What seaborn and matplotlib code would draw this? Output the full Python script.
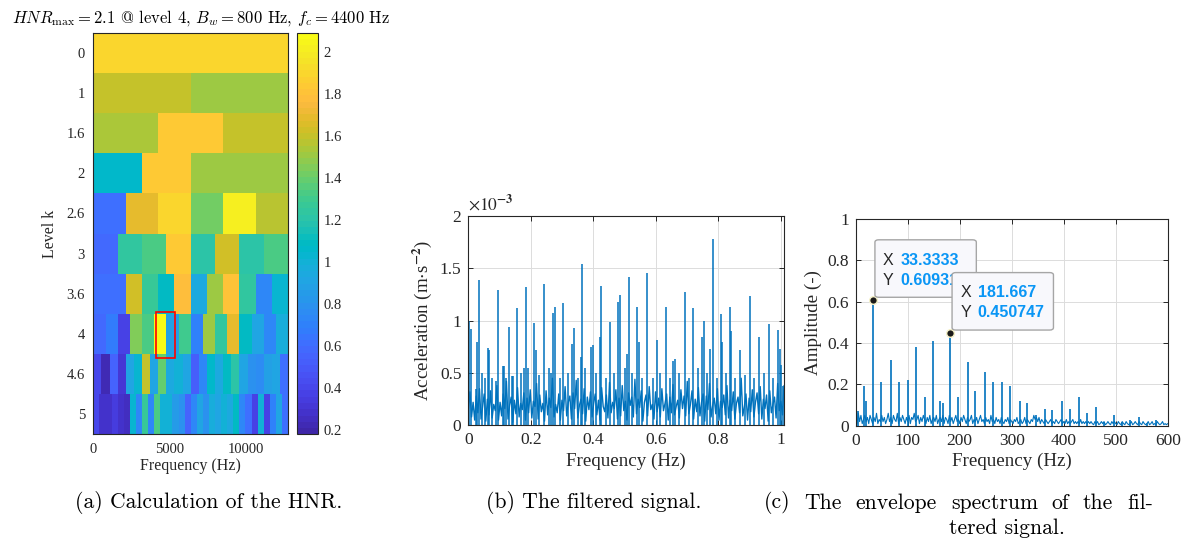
import numpy as np
import pandas as pd
import matplotlib
matplotlib.use('Agg')
import matplotlib.pyplot as plt
from matplotlib.colors import ListedColormap
from matplotlib.patches import Rectangle, FancyBboxPatch
from matplotlib.ticker import StrMethodFormatter
import seaborn as sns

# ---------------- data ----------------
level_labels = ['0', '1', '1.6', '2', '2.6', '3', '3.6', '4', '4.6', '5']
lvl_0 = [1.91]
lvl_1 = [1.61, 1.50]
lvl_1_6 = [1.55, 1.84, 1.60]
lvl_2 = [1.05, 1.84, 1.50, 1.50]
lvl_2_6 = [0.60, 1.69, 1.90, 1.43, 2.02, 1.58]
lvl_3 = [0.57, 1.24, 1.34, 1.84, 1.22, 1.64, 1.20, 1.33]
lvl_3_6 = [0.60, 0.62, 1.62, 1.28, 1.10, 1.78, 0.93, 1.50, 1.80, 1.24, 0.72, 1.03]
lvl_4 = [0.57, 0.68, 0.38, 1.44, 1.32, 2.09, 0.88, 1.30, 0.70, 1.50, 1.24, 1.69,
         1.10, 0.90, 0.72, 0.98]
lvl_4_6 = [0.40, 0.22, 0.55, 0.30, 0.92, 1.03, 1.60, 0.90, 1.38, 0.95, 1.00, 0.90,
           0.52, 0.72, 1.07, 0.95, 1.10, 1.22, 0.90, 0.78, 0.75, 0.87, 0.92, 0.60]
lvl_5 = [0.40, 0.27, 0.27, 0.33, 0.28, 0.24, 1.03, 0.74, 1.26, 0.72, 1.34, 1.00,
         1.00, 0.85, 0.80, 0.55, 0.72, 0.90, 0.80, 0.97, 0.92, 1.00, 0.95, 1.08,
         0.72, 0.62, 0.38, 1.00, 0.36, 0.70, 0.90, 0.62]
nyquist_hz = 12800
hnr_vmin, hnr_vmax = 0.18, 2.09
sel_band_hz = [4120, 5350]      # red box drawn by the original tool
sel_rows = [6.96, 8.11]

# (b) filtered signal, units of 1e-3 m/s^2
sig_floor = [
    0.15, 0.32, 0.08, 0.22, 0.05, 0.28, 0.12, 0.35, 0.06, 0.18, 0.30, 0.04, 0.25, 0.10, 0.33, 0.07, 0.20, 0.14, 0.38, 0.05,
    0.22, 0.09, 0.30, 0.16, 0.42, 0.06, 0.19, 0.27, 0.03, 0.24, 0.11, 0.36, 0.08, 0.21, 0.15, 0.31, 0.05, 0.26, 0.12, 0.34,
    0.07, 0.23, 0.18, 0.40, 0.06, 0.29, 0.13, 0.21, 0.04, 0.33, 0.10, 0.26, 0.17, 0.45, 0.08, 0.20, 0.12, 0.30, 0.05, 0.24,
    0.14, 0.37, 0.09, 0.22, 0.28, 0.06, 0.31, 0.16, 0.43, 0.07, 0.19, 0.25, 0.11, 0.35, 0.04, 0.27, 0.15, 0.32, 0.08, 0.21,
    0.30, 0.10, 0.24, 0.05, 0.36, 0.18, 0.13, 0.29, 0.07, 0.41, 0.12, 0.22, 0.16, 0.34, 0.06, 0.26, 0.09, 0.38, 0.14, 0.23,
    0.05, 0.31, 0.19, 0.27, 0.08, 0.44, 0.11, 0.25, 0.17, 0.33, 0.04, 0.22, 0.29, 0.09, 0.37, 0.15, 0.20, 0.06, 0.32, 0.13,
    0.26, 0.08, 0.35, 0.14, 0.21, 0.30, 0.05, 0.27, 0.12, 0.39, 0.10, 0.18, 0.24, 0.07, 0.34, 0.16, 0.28, 0.09, 0.42, 0.11,
    0.20, 0.33, 0.06, 0.25, 0.13, 0.36, 0.09, 0.22, 0.30, 0.04, 0.28, 0.15, 0.40, 0.08, 0.19, 0.26, 0.11, 0.35, 0.05, 0.23,
    0.17, 0.29, 0.10, 0.38, 0.07, 0.24, 0.14, 0.32, 0.06, 0.21, 0.27, 0.12, 0.45, 0.09, 0.18, 0.30, 0.05, 0.26, 0.13, 0.34,
    0.08, 0.22, 0.31, 0.11, 0.37, 0.06, 0.25, 0.16, 0.29, 0.04, 0.33, 0.12, 0.20, 0.27, 0.07, 0.40, 0.14, 0.23, 0.10, 0.38]
sig_xmax = 1.0106
sig_peak_x = [0.003, 0.009, 0.023, 0.029, 0.034, 0.045, 0.053, 0.062, 0.067, 0.075, 0.090, 0.096,
              0.110, 0.114, 0.120, 0.130, 0.140, 0.144, 0.157, 0.170, 0.179, 0.184, 0.190, 0.211,
              0.216, 0.225, 0.243, 0.258, 0.265, 0.272, 0.276, 0.295, 0.304, 0.320, 0.333, 0.338,
              0.350, 0.360, 0.365, 0.375, 0.393, 0.398, 0.410, 0.420, 0.426, 0.440, 0.452, 0.465,
              0.480, 0.485, 0.500, 0.507, 0.513, 0.525, 0.541, 0.546, 0.555, 0.573, 0.590, 0.605,
              0.615, 0.633, 0.645, 0.656, 0.660, 0.675, 0.695, 0.705, 0.720, 0.735, 0.749, 0.755,
              0.765, 0.774, 0.782, 0.795, 0.809, 0.813, 0.825, 0.838, 0.842, 0.855, 0.870, 0.885,
              0.902, 0.915, 0.931, 0.945, 0.964, 0.975, 0.990, 0.997, 1.001, 1.008]
sig_peak_h = [1.00, 0.92, 0.35, 0.80, 1.39, 0.50, 0.45, 0.74, 0.72, 0.45, 0.42, 1.29,
              0.57, 0.57, 0.45, 0.94, 0.47, 0.47, 1.12, 0.50, 0.55, 1.32, 0.55, 0.98,
              0.72, 0.48, 1.35, 0.55, 0.50, 1.07, 1.13, 0.45, 1.17, 0.50, 0.78, 0.93,
              0.45, 0.65, 1.54, 0.55, 0.75, 0.77, 0.50, 0.84, 1.33, 0.45, 0.99, 0.50,
              1.18, 1.25, 0.55, 0.68, 1.42, 0.50, 1.13, 0.80, 0.45, 1.46, 0.45, 0.82,
              0.50, 1.13, 0.45, 0.61, 0.63, 0.50, 1.27, 0.45, 1.12, 0.55, 0.84, 1.00,
              0.50, 0.73, 1.78, 0.45, 1.06, 0.80, 0.50, 1.13, 0.90, 0.45, 0.72, 0.48,
              1.24, 0.45, 0.84, 0.50, 0.97, 0.45, 0.91, 0.73, 0.58, 0.38]

# (c) envelope spectrum (noise floor every 2.5 Hz, then discrete lines)
env_floor = [
    0.04, 0.01, 0.06, 0.02, 0.05, 0.01, 0.03, 0.05, 0.02, 0.04, 0.01, 0.05, 0.03, 0.01, 0.04, 0.02, 0.06, 0.01, 0.03, 0.02,
    0.05, 0.02, 0.04, 0.01, 0.03, 0.06, 0.02, 0.04, 0.01, 0.05, 0.03, 0.02, 0.06, 0.01, 0.04, 0.02, 0.05, 0.03, 0.01, 0.04,
    0.02, 0.05, 0.01, 0.04, 0.03, 0.06, 0.02, 0.03, 0.05, 0.01, 0.04, 0.02, 0.05, 0.03, 0.01, 0.04, 0.02, 0.05, 0.01, 0.03,
    0.04, 0.02, 0.05, 0.01, 0.03, 0.04, 0.02, 0.05, 0.01, 0.04, 0.03, 0.01, 0.05, 0.02, 0.04, 0.01, 0.03, 0.05, 0.02, 0.03,
    0.01, 0.04, 0.02, 0.05, 0.03, 0.01, 0.04, 0.02, 0.03, 0.05, 0.01, 0.03, 0.02, 0.04, 0.01, 0.03, 0.05, 0.02, 0.03, 0.01,
    0.04, 0.02, 0.03, 0.01, 0.05, 0.02, 0.03, 0.01, 0.04, 0.02, 0.03, 0.01, 0.04, 0.02, 0.01, 0.03, 0.02, 0.04, 0.01, 0.03,
    0.02, 0.01, 0.03, 0.02, 0.04, 0.01, 0.02, 0.03, 0.01, 0.02, 0.04, 0.01, 0.03, 0.02, 0.01, 0.03, 0.02, 0.05, 0.03, 0.04,
    0.02, 0.04, 0.01, 0.03, 0.02, 0.01, 0.03, 0.02, 0.01, 0.02, 0.03, 0.01, 0.02, 0.01, 0.03, 0.02, 0.01, 0.02, 0.03, 0.01,
    0.02, 0.01, 0.03, 0.01, 0.02, 0.01, 0.02, 0.03, 0.01, 0.02, 0.01, 0.02, 0.01, 0.03, 0.01, 0.02, 0.01, 0.02, 0.01, 0.02,
    0.01, 0.02, 0.01, 0.005, 0.02, 0.01, 0.02, 0.005, 0.01, 0.02, 0.01, 0.02, 0.005, 0.01, 0.02, 0.01, 0.005, 0.02, 0.01, 0.02,
    0.01, 0.005, 0.02, 0.01, 0.005, 0.02, 0.01, 0.005, 0.02, 0.01, 0.005, 0.01, 0.02, 0.005, 0.01, 0.02, 0.01, 0.005, 0.02, 0.01,
    0.005, 0.02, 0.01, 0.005, 0.01, 0.02, 0.005, 0.01, 0.02, 0.005, 0.01, 0.005, 0.02, 0.01, 0.005, 0.01, 0.02, 0.005, 0.01, 0.005,
    0.01]
env_step_hz = 2.5
env_peak_f = [0, 5, 15.4, 19, 33.3333, 48.7, 67, 82.7, 100, 115, 134, 148.7, 162.8, 167,
              181.667, 196.8, 215.4, 230, 248, 263.5, 282, 297, 315, 329.5, 347, 364, 378,
              397, 411.5, 429.5, 445.5, 463, 478, 496, 511.5, 527, 544, 559.6, 578]
env_peak_a = [1.0, 0.07, 0.19, 0.12, 0.60931, 0.21, 0.32, 0.21, 0.22, 0.38, 0.14, 0.41, 0.12, 0.11,
              0.450747, 0.14, 0.31, 0.17, 0.26, 0.21, 0.21, 0.19, 0.12, 0.11, 0.05, 0.08, 0.075,
              0.12, 0.08, 0.14, 0.06, 0.09, 0.02, 0.05, 0.02, 0.03, 0.04, 0.015, 0.03]
tip_x = [33.3333, 181.667]
tip_y = [0.60931, 0.450747]
tip_xtxt = ['33.3333', '181.667']
tip_ytxt = ['0.60931', '0.450747']

captions = ['(a) Calculation of the HNR.', '(b) The filtered signal.',
            '(c) The envelope spectrum of the fil-', 'tered signal.']

parula = [
    [0.2422, 0.1504, 0.6603], [0.2504, 0.1650, 0.7076], [0.2578, 0.1818, 0.7511], [0.2647, 0.1978, 0.7952],
    [0.2706, 0.2147, 0.8364], [0.2751, 0.2342, 0.8710], [0.2783, 0.2559, 0.8991], [0.2803, 0.2782, 0.9221],
    [0.2813, 0.3006, 0.9414], [0.2810, 0.3228, 0.9579], [0.2795, 0.3447, 0.9717], [0.2760, 0.3667, 0.9829],
    [0.2699, 0.3892, 0.9906], [0.2602, 0.4123, 0.9952], [0.2440, 0.4358, 0.9988], [0.2206, 0.4603, 0.9973],
    [0.1963, 0.4847, 0.9892], [0.1834, 0.5074, 0.9798], [0.1786, 0.5289, 0.9682], [0.1764, 0.5499, 0.9520],
    [0.1687, 0.5703, 0.9359], [0.1540, 0.5902, 0.9218], [0.1460, 0.6091, 0.9079], [0.1380, 0.6276, 0.8973],
    [0.1248, 0.6459, 0.8883], [0.1113, 0.6635, 0.8763], [0.0952, 0.6798, 0.8598], [0.0689, 0.6948, 0.8394],
    [0.0297, 0.7082, 0.8163], [0.0036, 0.7203, 0.7917], [0.0067, 0.7312, 0.7660], [0.0433, 0.7411, 0.7394],
    [0.0964, 0.7500, 0.7120], [0.1408, 0.7584, 0.6842], [0.1717, 0.7670, 0.6554], [0.1938, 0.7758, 0.6251],
    [0.2161, 0.7843, 0.5923], [0.2470, 0.7918, 0.5567], [0.2906, 0.7973, 0.5188], [0.3406, 0.8008, 0.4789],
    [0.3909, 0.8029, 0.4354], [0.4456, 0.8024, 0.3909], [0.5044, 0.7993, 0.3480], [0.5616, 0.7942, 0.3045],
    [0.6174, 0.7876, 0.2612], [0.6720, 0.7793, 0.2227], [0.7242, 0.7698, 0.1910], [0.7738, 0.7598, 0.1646],
    [0.8203, 0.7498, 0.1535], [0.8634, 0.7406, 0.1596], [0.9035, 0.7330, 0.1774], [0.9393, 0.7288, 0.2100],
    [0.9728, 0.7298, 0.2394], [0.9956, 0.7434, 0.2371], [0.9970, 0.7659, 0.2199], [0.9952, 0.7893, 0.2028],
    [0.9892, 0.8136, 0.1885], [0.9786, 0.8386, 0.1766], [0.9676, 0.8639, 0.1643], [0.9610, 0.8890, 0.1537],
    [0.9597, 0.9135, 0.1423], [0.9628, 0.9373, 0.1265], [0.9691, 0.9606, 0.1064], [0.9769, 0.9839, 0.0805]]

# ---------------- style ----------------
sns.set_theme(style='ticks')
plt.rcParams['font.family'] = ['Liberation Serif', 'DejaVu Serif']
plt.rcParams['mathtext.fontset'] = 'stix'
plt.rcParams['axes.edgecolor'] = '#262626'
plt.rcParams['axes.linewidth'] = 0.7
plt.rcParams['xtick.color'] = '#262626'
plt.rcParams['ytick.color'] = '#262626'
plt.rcParams['text.color'] = '#262626'
plt.rcParams['axes.labelcolor'] = '#262626'

BLUE = '#0072BD'
W, H = 1189, 539
fig = plt.figure(figsize=(W / 100, H / 100), dpi=100)

# ---------------- (a) kurtogram-like HNR map ----------------
levels = [lvl_0, lvl_1, lvl_1_6, lvl_2, lvl_2_6, lvl_3, lvl_3_6, lvl_4, lvl_4_6, lvl_5]
ncol = 96
mat = np.vstack([np.repeat(np.array(v), ncol // len(v)) for v in levels])
ax1 = fig.add_axes([0.0785, 0.1942, 0.1638, 0.7451])
cax = fig.add_axes([0.2500, 0.1942, 0.0177, 0.7451])
sns.heatmap(mat, ax=ax1, cbar_ax=cax, cmap=ListedColormap(parula), vmin=hnr_vmin, vmax=hnr_vmax,
            xticklabels=False, yticklabels=False, linewidths=0)
col_per_hz = ncol / nyquist_hz
ax1.set_xticks([0, 5000 * col_per_hz, 10000 * col_per_hz])
ax1.set_xticklabels(['0', '5000', '10000'], fontsize=10.5)
ax1.set_yticks(np.arange(len(level_labels)) + 0.5)
ax1.set_yticklabels(level_labels, fontsize=10.5, rotation=0)
for s in ax1.spines.values():
    s.set_visible(True)
    s.set_color('#262626')
    s.set_linewidth(0.8)
ax1.tick_params(direction='in', length=3, width=0.7, top=True, right=True,
                labeltop=False, labelright=False, pad=6)
ax1.set_xlabel('Frequency (Hz)', fontsize=11.5, labelpad=2)
ax1.set_ylabel('Level k', fontsize=11.5, labelpad=6)
ax1.add_patch(Rectangle((sel_band_hz[0] * col_per_hz, sel_rows[0]),
                        (sel_band_hz[1] - sel_band_hz[0]) * col_per_hz, sel_rows[1] - sel_rows[0],
                        fill=False, edgecolor='#ff0000', lw=1.2, zorder=5))
cb = ax1.collections[0].colorbar
cb.set_ticks([0.2, 0.4, 0.6, 0.8, 1.0, 1.2, 1.4, 1.6, 1.8, 2.0])
cb.set_ticklabels(['0.2', '0.4', '0.6', '0.8', '1', '1.2', '1.4', '1.6', '1.8', '2'])
cb.outline.set_visible(True)
cb.outline.set_linewidth(0.8)
cb.outline.set_edgecolor('#262626')
cax.tick_params(direction='in', length=3, width=0.7, labelsize=10.5, pad=4)
fig.text(0.169, 0.967,
         r'$HNR_{\max} = 2.1$ @ level 4, $B_w = 800$ Hz, $f_c = 4400$ Hz',
         ha='center', va='center', fontsize=12, family='cmr10', math_fontfamily='cm',
         color='black')

# ---------------- (b) filtered signal ----------------
ax2 = fig.add_axes([0.3939, 0.2109, 0.2655, 0.3883])
sig_x = np.linspace(0, sig_xmax, len(sig_floor))
sns.lineplot(x=sig_x, y=sig_floor, ax=ax2, color=BLUE, lw=1.0, estimator=None, sort=False)
ax2.vlines(sig_peak_x, 0, sig_peak_h, color=BLUE, lw=1.1)
ax2.set_xlim(0, sig_xmax)
ax2.set_ylim(0, 2)
ax2.set_xticks([0, 0.2, 0.4, 0.6, 0.8, 1.0])
ax2.set_yticks([0, 0.5, 1.0, 1.5, 2.0])
ax2.xaxis.set_major_formatter(StrMethodFormatter('{x:g}'))
ax2.yaxis.set_major_formatter(StrMethodFormatter('{x:g}'))
ax2.text(0.0, 1.01, r'$\times10^{\mathbf{-3}}$', transform=ax2.transAxes, ha='left', va='bottom',
         fontsize=12.5)
ax2.set_xlabel('Frequency (Hz)', fontsize=13.7, labelpad=3)
ax2.set_ylabel(r'Acceleration (m$\cdot$s$^{\mathbf{-2}}$)', fontsize=13.7, labelpad=4)

# ---------------- (c) envelope spectrum ----------------
ax3 = fig.add_axes([0.7197, 0.2102, 0.2624, 0.3835])
env_f = np.arange(len(env_floor)) * env_step_hz
sns.lineplot(x=env_f, y=env_floor, ax=ax3, color=BLUE, lw=0.8, estimator=None, sort=False)
ax3.vlines(env_peak_f, 0, env_peak_a, color=BLUE, lw=1.2)
ax3.set_xlim(0, 600)
ax3.set_ylim(0, 1)
ax3.set_xticks(np.arange(0, 601, 100))
ax3.set_yticks([0, 0.2, 0.4, 0.6, 0.8, 1.0])
ax3.xaxis.set_major_formatter(StrMethodFormatter('{x:g}'))
ax3.yaxis.set_major_formatter(StrMethodFormatter('{x:g}'))
ax3.set_xlabel('Frequency (Hz)', fontsize=13.7, labelpad=3)
ax3.set_ylabel('Amplitude (-)', fontsize=13.7, labelpad=4)

for ax in (ax2, ax3):
    ax.grid(True, color='#dcdcdc', lw=0.7)
    ax.set_axisbelow(True)
    ax.tick_params(direction='in', length=3.5, width=0.7, top=True, right=True,
                   labelsize=12.5, pad=5)
    for s in ax.spines.values():
        s.set_visible(True)
        s.set_color('#262626')
        s.set_linewidth(0.8)

# data tips
to_axes = ax3.transData + ax3.transAxes.inverted()
box_w, box_h = 0.325, 0.278
for i, (tx, ty) in enumerate(zip(tip_x, tip_y)):
    ax3.plot([tx], [ty], 'o', color='#1a1a1a', ms=5.5, mec='#f6f2c8', mew=1.0, zorder=10 + 3 * i)
    axx, axy = to_axes.transform((tx, ty))
    bx, by = axx + 0.006, axy + 0.012
    ax3.add_patch(FancyBboxPatch((bx, by), box_w, box_h, boxstyle='round,pad=0,rounding_size=0.012',
                                 transform=ax3.transAxes, facecolor='#f8f8fc', edgecolor='#a6a6a6',
                                 lw=1.0, zorder=11 + 3 * i, clip_on=False))
    for lab, val, dy in (('X', tip_xtxt[i], 0.18), ('Y', tip_ytxt[i], 0.083)):
        ax3.text(bx + 0.026, by + dy, lab, transform=ax3.transAxes, ha='left', va='center',
                 family='Liberation Sans', fontsize=11.5, color='#262626', zorder=12 + 3 * i)
        ax3.text(bx + 0.082, by + dy, val, transform=ax3.transAxes, ha='left', va='center',
                 family='Liberation Sans', fontsize=11.5, color='#0a96f5', fontweight='bold',
                 zorder=12 + 3 * i)

# captions
cap_fs = 15.6
cap_kw = dict(va='center', fontsize=cap_fs, family='cmr10', color='black')
y1, y2 = 1 - 503 / H, 1 - 528 / H
fig.text(209 / W, y1, captions[0], ha='center', **cap_kw)
fig.text(594 / W, y1, captions[1], ha='center', **cap_kw)
# justified first line of caption (c)
renderer = fig.canvas.get_renderer()
words = captions[2].split(' ')
probe = [fig.text(0, 0, w, ha='left', **cap_kw) for w in words]
widths = [t.get_window_extent(renderer=renderer).width for t in probe]
for t in probe:
    t.remove()
x_left, x_right = 764, 1153
gap = (x_right - x_left - sum(widths)) / (len(words) - 1)
xpos = x_left
for w, wd in zip(words, widths):
    fig.text(xpos / W, y1, w, ha='left', **cap_kw)
    xpos += wd + gap
fig.text(1007 / W, y2, captions[3], ha='center', **cap_kw)

fig.savefig('out.png', dpi=100)
